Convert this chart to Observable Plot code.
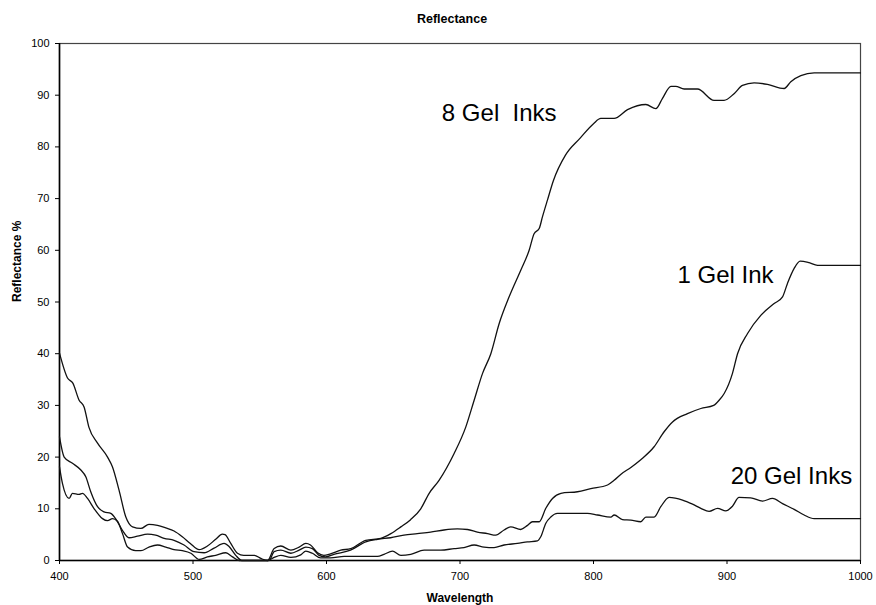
<!DOCTYPE html>
<html><head><meta charset="utf-8">
<script src="https://cdn.jsdelivr.net/npm/d3@7"></script>
<script src="https://cdn.jsdelivr.net/npm/@observablehq/plot@0.6"></script>
<style>body{margin:0;background:#fff;}</style>
</head><body><div id="chart"></div>
<script>
// 8 Gel Inks
const wl8 = [400,406,410,414.7,418.4,422,428.5,436,439.7,444.6,449.7,454.7,461,467,473.4,479.6,485.8,492,498,504.6,510.8,517,522,524,528.3,533.3,538,546,550.8,555.8,560.8,565.8,573.3,579.5,584.5,588,593.3,598,603,610.7,618.2,629.4,640.7,648.2,655.7,663,670.6,676.9,684.3,695.6,704.3,710.6,716.9,723.1,729.3,736.8,745.6,751.8,755.5,759.3,761.8,765.5,770,779,790,800,805.5,815.4,825.5,839.2,846.7,851.7,858,861.6,867.9,877.9,890.3,897.8,905.3,911.6,920.3,930.3,942.8,947.8,955.3,965.3,1000];
const r8 = [40.1,35.3,34.3,31,29.7,25.8,22.7,20,18.1,13.6,8.4,6.5,6.2,7.0,6.8,6.3,5.7,4.6,3.3,2.1,2.8,4.1,5.1,5.0,3.3,1.4,1.0,1.0,0.4,0,2.3,2.8,2.0,2.6,3.3,3.0,1.5,1.0,1.3,2.0,2.3,3.9,4.3,5.2,6.5,7.9,10,13,15.5,20.7,25.8,31,36.2,40,45.8,51,56.2,60,63.2,64.2,66.5,69.7,73.5,78.4,81.7,84.5,85.5,85.5,87.2,88.2,87.4,89.4,91.7,91.7,91.2,91.2,89,89,90.3,91.9,92.4,92.1,91.3,92.6,93.8,94.3,94.3];

// 1 Gel Ink
const wl1 = [400,403.5,409.7,416,419.7,423.4,428.5,433.4,438.4,442,447,452,458.4,466,472,478.4,485.8,493.3,500.8,508.3,515.8,523.3,527,532,536.6,557,560.8,565.8,573.3,579.5,584.5,589.4,594.4,599.3,605.5,618,629.4,638.2,648,658,668,678,688,698,705.6,713,720.6,726.8,733,738,745.5,750.6,754.3,759.3,764.3,769.3,775.6,788,798,810.5,815.4,820.6,828,835.4,845.4,852.9,859.2,870.4,880.4,890,894.1,897.9,904.1,907.9,915.4,925.3,935.3,941.6,945.3,950.3,954.8,961.5,967.8,1000];
const r1 = [23.9,20,18.8,17.5,16.2,13.3,10.4,9.4,9.1,8.1,5.9,4.4,4.7,5.1,4.9,4.3,3.9,3.0,1.7,1.5,2.4,3.3,2.7,1.0,0,0,1.7,2.0,1.4,2.0,2.6,2.3,1.0,0.7,1.2,2.0,3.6,4.1,4.4,4.9,5.2,5.5,5.9,6.1,6.0,5.5,5.2,4.9,5.9,6.5,6.0,6.8,7.5,7.5,10.1,12,13,13.3,13.9,14.6,15.5,16.7,18,19.5,22,24.9,26.8,28.4,29.4,30,31,32.3,36.2,40,43.9,47.4,49.7,51,53.6,56.5,57.9,57.6,57.1,57.1];

// 20 Gel Inks
const wl20 = [400,402.2,407.2,409.7,414.7,417.2,421,426,432.2,436,439.7,443.4,447.2,451,457,461,467,473.4,479.6,485.8,492,498.4,504.6,510.8,517,524.6,529.6,534.5,556,560.8,565.8,573.3,580.7,584.5,589.4,595.6,603,613.2,623.2,638.2,643.1,649.4,655.7,663.1,673.1,685.6,695.6,703,710.6,718,725.5,733,743,750.5,758,760.5,764.3,768,773,783,795.5,803,813,815.5,821.7,828,835.4,839.2,845.4,850.4,856.6,866.7,874.2,880.4,886.6,892.9,899.1,904.1,909,917.8,926.6,934.1,941.6,950.3,957.8,965.3,1000];
const r20 = [18.1,14.9,12,13,12.8,13,12,10,8.1,7.7,8.1,7.6,5.2,2.6,1.9,1.9,2.6,3.0,2.6,2.1,1.9,1.4,0.2,0.7,1.0,1.5,0.7,0,0,0.6,1.0,0.6,1.1,1.8,1.4,0.5,0.5,0.8,0.8,0.8,1.2,1.8,1.0,1.2,2.0,2.0,2.3,2.5,3.0,2.6,2.5,3.0,3.3,3.6,3.8,4.6,7.2,8.4,9.1,9.1,9.1,8.8,8.4,8.8,7.9,7.8,7.5,8.4,8.4,10.4,12.2,11.7,10.9,10.1,9.5,10.1,9.6,10.5,12.2,12.1,11.5,12.0,11.0,9.9,8.8,8.1,8.1];

const xTicks = [400,500,600,700,800,900,1000];
const yTicks = [0,10,20,30,40,50,60,70,80,90,100];

const labelText = ["8 Gel  Inks", "1 Gel Ink", "20 Gel Inks"];
const labelX = [686.4, 862.9, 902.8];
const labelY = [86.5, 55.2, 16.2];

const titleText = "Reflectance";
const xTitle = "Wavelength";
const yTitle = "Reflectance %";

const toRows = (wl, r, s) => wl.map((w, i) => ({wl: w, r: r[i], s}));
const rows = [...toRows(wl8, r8, "8"), ...toRows(wl1, r1, "1"), ...toRows(wl20, r20, "20")];
const labels = labelText.map((t, i) => ({t, x: labelX[i], y: labelY[i]}));

const chart = Plot.plot({
  width: 876, height: 605,
  marginLeft: 59, marginRight: 16, marginTop: 43, marginBottom: 45,
  style: {fontFamily: "'Liberation Sans', Arial, sans-serif", fontSize: "11px", color: "#000", background: "#fff"},
  x: {domain: [400, 1000]},
  y: {domain: [0, 100]},
  marks: [
    Plot.frame({stroke: "#444", strokeWidth: 1.2}),
    Plot.axisX({ticks: xTicks, tickSize: 4, tickPadding: 8, label: null, tickFormat: d => String(d)}),
    Plot.axisY({ticks: yTicks, tickSize: 4, tickPadding: 6, label: null, tickFormat: d => String(d)}),
    Plot.ruleX([400], {stroke: "#000", strokeWidth: 1.6}),
    Plot.ruleY([0], {stroke: "#000", strokeWidth: 1.6}),
    Plot.line(rows, {x: "wl", y: "r", z: "s", stroke: "#111", strokeWidth: 1.3, curve: "monotone-x"}),
    Plot.text(labels, {x: "x", y: "y", text: "t", textAnchor: "start", lineAnchor: "middle", fontSize: 24, fill: "#000"}),
    Plot.text([titleText], {frameAnchor: "top", lineAnchor: "middle", dy: -25, dx: -8, fontWeight: "bold", fontSize: 12.5}),
    Plot.text([xTitle], {frameAnchor: "bottom", lineAnchor: "middle", dy: 38, fontWeight: "bold", fontSize: 12}),
    Plot.text([yTitle], {frameAnchor: "left", lineAnchor: "middle", rotate: -90, dx: -42, fontWeight: "bold", fontSize: 12})
  ]
});
document.getElementById("chart").appendChild(chart);
</script>
</body></html>
